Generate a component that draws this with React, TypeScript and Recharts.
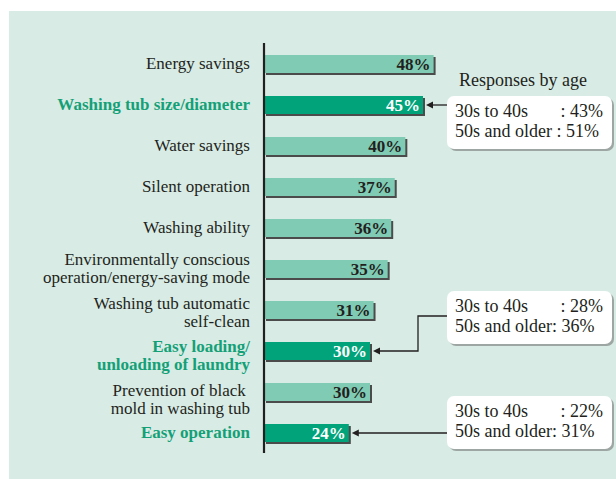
import { BarChart, Bar, XAxis, YAxis } from "recharts";

const categories = [
  "Energy savings",
  "Washing tub size/diameter",
  "Water savings",
  "Silent operation",
  "Washing ability",
  "Environmentally conscious\noperation/energy-saving mode",
  "Washing tub automatic\nself-clean",
  "Easy loading/\nunloading of laundry",
  "Prevention of black\u00a0\nmold in washing tub",
  "Easy operation",
];
const shares = [48, 45, 40, 37, 36, 35, 31, 30, 30, 24];
const highlighted = [false, true, false, false, false, false, false, true, false, true];
const age30to40 = [null, 43, null, null, null, null, null, 28, null, 22];
const age50plus = [null, 51, null, null, null, null, null, 36, null, 31];

const BG = "#d8ece5";
const LIGHT = "#7fcbb4";
const DARK = "#00a37a";
const GREEN_TEXT = "#14a077";
const FONT = "'Liberation Serif', 'Times New Roman', serif";

// first-line vertical shift for the two-line labels
const labelShift = [0, 0, 0, 0, 0, -9, -6, -4, -1, 0];

// callout boxes (box top relative to the bar centre)
const BOX_X = 447;
const BOX_W = 165;
const BOX_H = 53;
const callouts: Record<number, { boxDy: number; elbowX?: number; title?: string }> = {
  1: { boxDy: -9, title: "Responses by age" },
  7: { boxDy: -60, elbowX: 418 },
  9: { boxDy: -37 },
};

const rows = categories.map((name, i) => ({
  name,
  share: shares[i],
  hi: highlighted[i],
  young: age30to40[i],
  old: age50plus[i],
}));

function CategoryTick(props: any) {
  const { x, y, payload } = props;
  const idx = categories.indexOf(payload.value);
  const lines = String(payload.value).split("\n");
  const hi = highlighted[idx];
  const first = lines.length > 1 ? labelShift[idx] : 0;
  return (
    <g>
      {lines.map((ln, k) => (
        <text
          key={k}
          x={x}
          y={y + first + k * 18}
          dy="0.35em"
          textAnchor="end"
          fontFamily={FONT}
          fontSize={17}
          fontWeight={hi ? 700 : 400}
          fill={hi ? GREEN_TEXT : "#231f20"}
        >
          {ln}
        </text>
      ))}
    </g>
  );
}

function Arrow({ x, y }: { x: number; y: number }) {
  return <polygon points={`${x},${y} ${x + 7},${y - 3.5} ${x + 7},${y + 3.5}`} fill="#231f20" />;
}

function BarShape(props: any) {
  const { x, y, width, height, payload, index } = props;
  const fill = payload.hi ? DARK : LIGHT;
  const cy = y + height / 2;
  const c = callouts[index];
  let callout = null;
  if (c && payload.young != null) {
    const top = cy + c.boxDy;
    const tip = x + width + 3;
    const sep = index === 1 ? " : " : ": ";
    callout = (
      <g>
        {c.title && (
          <text x={BOX_X + 12} y={top - 10} fontFamily={FONT} fontSize={18} fill="#231f20">
            {c.title}
          </text>
        )}
        {c.elbowX ? (
          <polyline
            points={`${BOX_X},${top + 25} ${c.elbowX},${top + 25} ${c.elbowX},${cy} ${tip + 6},${cy}`}
            fill="none"
            stroke="#231f20"
            strokeWidth={1.3}
          />
        ) : (
          <line x1={BOX_X} y1={cy} x2={tip + 6} y2={cy} stroke="#231f20" strokeWidth={1.3} />
        )}
        <Arrow x={tip} y={cy} />
        <rect x={BOX_X + 2} y={top + 2} width={BOX_W} height={BOX_H} rx={7} fill="#6d6d6d" opacity={0.55} />
        <rect x={BOX_X} y={top} width={BOX_W} height={BOX_H} rx={7} fill="#ffffff" />
        <text x={BOX_X + 8} y={top + 21} fontFamily={FONT} fontSize={18} fill="#231f20">
          30s to 40s
        </text>
        <text x={BOX_X + BOX_W - 9} y={top + 21} textAnchor="end" fontFamily={FONT} fontSize={18} fill="#231f20">
          {`: ${payload.young}%`}
        </text>
        <text x={BOX_X + 8} y={top + 41} fontFamily={FONT} fontSize={18} fill="#231f20">
          {`50s and older${sep}${payload.old}%`}
        </text>
      </g>
    );
  }
  return (
    <g>
      <rect x={x + 2} y={y + 2} width={width} height={height} fill="#4b4b4b" />
      <rect x={x} y={y} width={width} height={height} fill={fill} />
      <text
        x={x + width - 3}
        y={cy}
        dy="0.36em"
        textAnchor="end"
        fontFamily={FONT}
        fontSize={17}
        fontWeight={700}
        fill={payload.hi ? "#ffffff" : "#231f20"}
      >
        {`${payload.share}%`}
      </text>
      {callout}
    </g>
  );
}

export default function App() {
  return (
    <div style={{ position: "absolute", left: 0, top: 0, width: 616, height: 479, background: "#ffffff" }}>
      <div style={{ position: "absolute", left: 9, top: 11, width: 607, height: 468, background: BG }} />
      <div style={{ position: "absolute", left: 0, top: 0 }}>
        <BarChart
          width={616}
          height={479}
          data={rows}
          layout="vertical"
          margin={{ top: 43, right: 140, bottom: 26, left: 0 }}
        >
          <XAxis type="number" domain={[0, 60]} hide />
          <YAxis
            type="category"
            dataKey="name"
            width={264}
            tickSize={0}
            tickMargin={14}
            tickLine={false}
            axisLine={{ stroke: "#231f20", strokeWidth: 2.2 }}
            tick={<CategoryTick />}
            interval={0}
          />
          <Bar dataKey="share" barSize={18} shape={<BarShape />} isAnimationActive={false} />
        </BarChart>
      </div>
    </div>
  );
}
